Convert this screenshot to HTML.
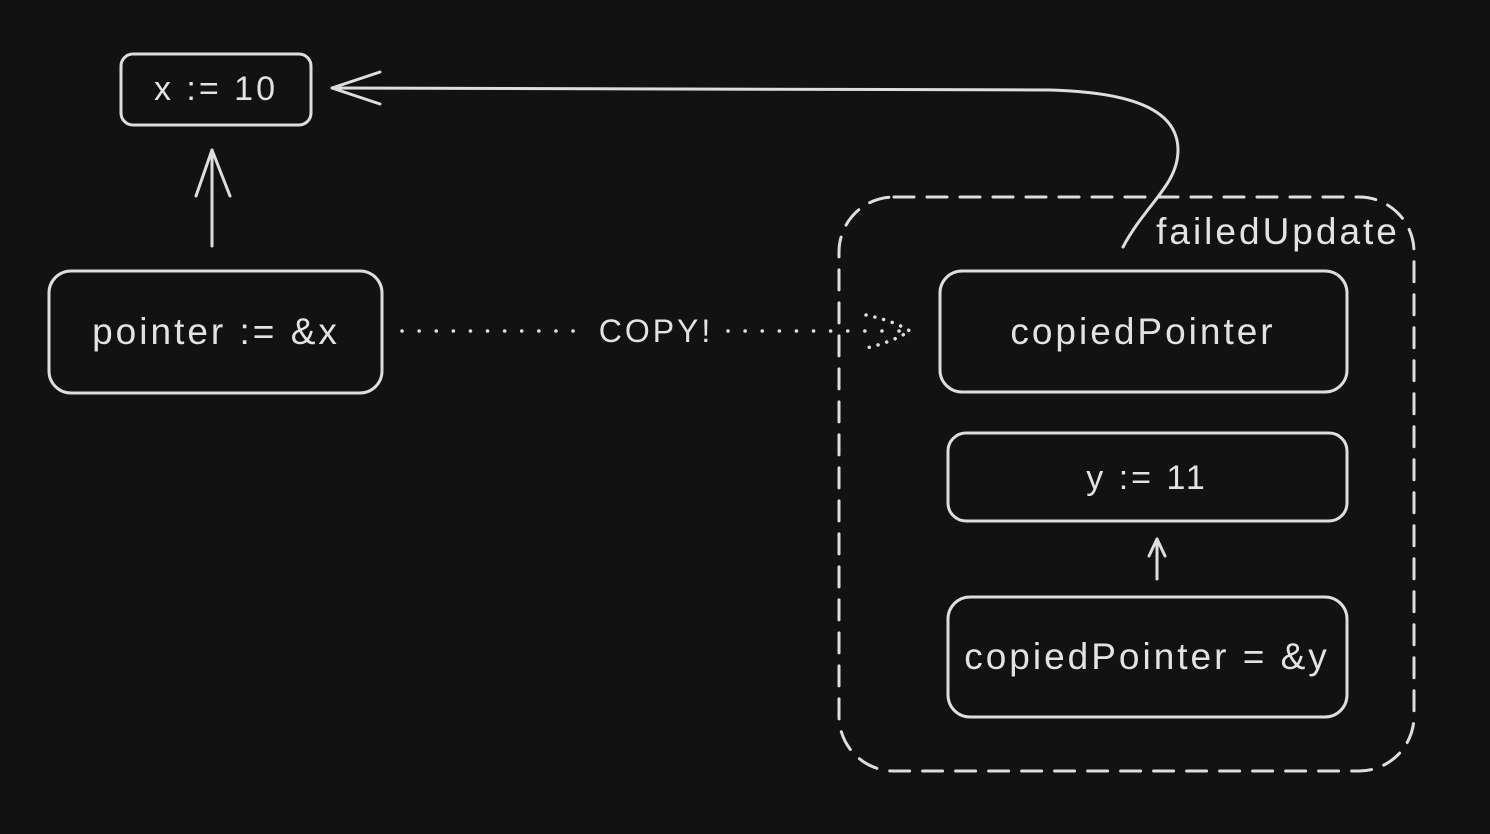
<!DOCTYPE html>
<html><head><meta charset="utf-8"><style>
html,body{margin:0;padding:0;background:#121212;}
svg{display:block;}
text{font-family:"Liberation Sans",sans-serif;fill:#e3e3e3;letter-spacing:3px;}
</style></head><body>
<svg width="1490" height="834" viewBox="0 0 1490 834" xmlns="http://www.w3.org/2000/svg">
<rect width="1490" height="834" fill="#121212"/>
<g fill="none" stroke="#dedede" stroke-width="3" stroke-linecap="round" stroke-linejoin="round">
  <rect x="121" y="54" width="190" height="71" rx="12"/>
  <line x1="212" y1="246" x2="212" y2="150"/>
  <polyline points="196,196 212,150 230,196"/>
  <rect x="49" y="271" width="333" height="122" rx="22"/>
  <rect x="940" y="271" width="407" height="121" rx="22"/>
  <rect x="948" y="433" width="399" height="88" rx="18"/>
  <line x1="1157" y1="579" x2="1157" y2="539"/>
  <polyline points="1149,556 1157,539 1165,556"/>
  <rect x="948" y="597" width="399" height="120" rx="22"/>
  <rect x="839" y="197" width="575" height="574" rx="55" stroke-dasharray="20 13"/>
  <path d="M1123,247 C1145,205 1178,185 1178,150 C1178,105 1120,92 1050,90 L332,88"/>
  <polyline points="380,72 332,88 380,104"/>
  <line x1="402" y1="331" x2="585" y2="331" stroke-dasharray="0.1 17" stroke-width="3.5"/>
  <line x1="728" y1="331" x2="912" y2="331" stroke-dasharray="0.1 17" stroke-width="3.5"/>
  <path d="M866,315 C880,318 895,322 910,331 C895,340 880,345 866,348" stroke-dasharray="0.1 9" stroke-width="3.5"/>
</g>
<text x="216" y="100" font-size="34" text-anchor="middle">x := 10</text>
<text x="216" y="344" font-size="37" text-anchor="middle">pointer := &amp;x</text>
<text x="656" y="342" font-size="32" text-anchor="middle">COPY!</text>
<text x="1278" y="244" font-size="37" text-anchor="middle" letter-spacing="1">failedUpdate</text>
<text x="1143" y="344" font-size="37" text-anchor="middle" letter-spacing="1">copiedPointer</text>
<text x="1147" y="489" font-size="34" text-anchor="middle">y := 11</text>
<text x="1147" y="669" font-size="37" text-anchor="middle" letter-spacing="1">copiedPointer = &amp;y</text>
</svg>
</body></html>
